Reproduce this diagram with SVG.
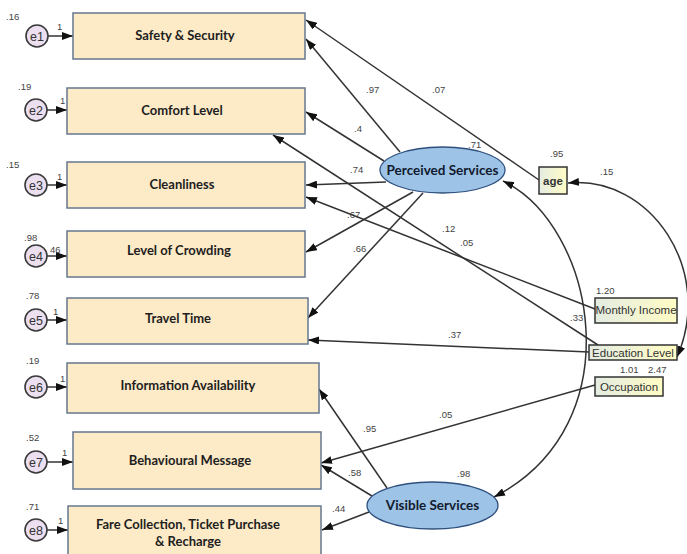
<svg xmlns="http://www.w3.org/2000/svg" width="687" height="554" viewBox="0 0 687 554">
<style>
.box{fill:#fdeac7;stroke:#66778f;stroke-width:1.5}
.btxt{font-family:Lato,"Liberation Sans",sans-serif;font-weight:bold;font-size:13px;fill:#1e1e1e;text-anchor:middle}
.err{fill:#ebdff0;stroke:#3a3a3a;stroke-width:1.6}
.etxt{font-family:"Liberation Sans",Arial,sans-serif;font-size:12.5px;fill:#333;text-anchor:middle}
.num{font-family:"Liberation Sans",Arial,sans-serif;font-size:9.5px;fill:#444}
.lat{fill:#9dc3e6;stroke:#2f507e;stroke-width:1.3}
.ltxt{font-family:Lato,"Liberation Sans",sans-serif;font-weight:bold;font-size:13.5px;fill:#111a2e;text-anchor:middle}
.obs{fill:url(#g);stroke:#333;stroke-width:1.5}
.otxt{font-family:"Liberation Sans",Arial,sans-serif;font-size:11.5px;fill:#333;text-anchor:middle}
.c{fill:none;stroke:#333;stroke-width:1.5;marker-end:url(#ah)}
.cv{fill:none;stroke:#333;stroke-width:1.5;marker-end:url(#ah);marker-start:url(#ahs)}
</style>
<defs>
<linearGradient id="g" x1="0" y1="0" x2="1" y2="0">
<stop offset="0" stop-color="#e4ece2"/>
<stop offset="1" stop-color="#fffcc4"/>
</linearGradient>
<marker id="ah" markerUnits="userSpaceOnUse" markerWidth="11" markerHeight="8" refX="11" refY="4" orient="auto">
<path d="M0,0 L11,4 L0,8 z" fill="#111"/>
</marker>
<marker id="ahs" markerUnits="userSpaceOnUse" markerWidth="11" markerHeight="8" refX="11" refY="4" orient="auto-start-reverse">
<path d="M0,0 L11,4 L0,8 z" fill="#111"/>
</marker>
</defs>
<rect width="687" height="554" fill="#fff"/>

<g id="connectors">
<line class="c" x1="48" y1="36" x2="73" y2="36"/>
<line class="c" x1="47" y1="110" x2="67" y2="110"/>
<line class="c" x1="47" y1="185" x2="67" y2="185"/>
<line class="c" x1="47" y1="256" x2="67" y2="256"/>
<line class="c" x1="47" y1="320" x2="67" y2="320"/>
<line class="c" x1="47" y1="387" x2="67" y2="387"/>
<line class="c" x1="47" y1="462" x2="73" y2="462"/>
<line class="c" x1="47" y1="530" x2="68" y2="530"/>
<line class="c" x1="539" y1="180" x2="306" y2="20"/>
<line class="c" x1="400" y1="152" x2="306" y2="39"/>
<line class="c" x1="384" y1="161" x2="306" y2="112"/>
<line class="c" x1="386" y1="182" x2="306" y2="185"/>
<line class="c" x1="413" y1="192" x2="306" y2="252"/>
<line class="c" x1="423" y1="193" x2="308" y2="318"/>
<line class="c" x1="598" y1="345" x2="273" y2="135"/>
<line class="c" x1="595" y1="309" x2="306" y2="197"/>
<line class="c" x1="589" y1="352" x2="308" y2="340"/>
<line class="c" x1="595" y1="385" x2="321" y2="463"/>
<line class="c" x1="387" y1="488" x2="319" y2="389"/>
<line class="c" x1="372" y1="496" x2="321" y2="465"/>
<line class="c" x1="369" y1="512" x2="322" y2="530"/>
<path class="cv" d="M503,181 C595,225 635,425 494,497"/>
<path class="cv" d="M568,183 C650,175 715,270 677,357"/>
</g>

<g id="e1"><circle class="err" cx="37" cy="36" r="11"/><text class="etxt" x="37" y="40.5">e1</text></g>
<g id="e2"><circle class="err" cx="36" cy="110" r="11"/><text class="etxt" x="36" y="114.5">e2</text></g>
<g id="e3"><circle class="err" cx="36" cy="185" r="11"/><text class="etxt" x="36" y="189.5">e3</text></g>
<g id="e4"><circle class="err" cx="36" cy="256" r="11"/><text class="etxt" x="36" y="260.5">e4</text></g>
<g id="e5"><circle class="err" cx="36" cy="320" r="11"/><text class="etxt" x="36" y="324.5">e5</text></g>
<g id="e6"><circle class="err" cx="36" cy="387" r="11"/><text class="etxt" x="36" y="391.5">e6</text></g>
<g id="e7"><circle class="err" cx="36" cy="462" r="11"/><text class="etxt" x="36" y="466.5">e7</text></g>
<g id="e8"><circle class="err" cx="36" cy="530" r="11"/><text class="etxt" x="36" y="534.5">e8</text></g>

<g id="safety"><rect class="box" x="73" y="13" width="232" height="46"/><text class="btxt" x="185" y="40">Safety &amp; Security</text></g>
<g id="comfort"><rect class="box" x="67" y="88" width="238" height="46"/><text class="btxt" x="182" y="115">Comfort Level</text></g>
<g id="cleanliness"><rect class="box" x="67" y="162" width="238" height="46"/><text class="btxt" x="182" y="189">Cleanliness</text></g>
<g id="crowding"><rect class="box" x="67" y="231" width="238" height="46"/><text class="btxt" x="179" y="255">Level of Crowding</text></g>
<g id="travel"><rect class="box" x="67" y="298" width="241" height="46"/><text class="btxt" x="178" y="323">Travel Time</text></g>
<g id="info"><rect class="box" x="67" y="363" width="252" height="50"/><text class="btxt" x="188" y="390">Information Availability</text></g>
<g id="behavioural"><rect class="box" x="73" y="432" width="248" height="57"/><text class="btxt" x="190" y="465">Behavioural Message</text></g>
<g id="fare"><rect class="box" x="68" y="506" width="253" height="50"/><text class="btxt" x="188" y="529">Fare Collection, Ticket Purchase</text><text class="btxt" x="188" y="546">&amp; Recharge</text></g>

<g id="perceived"><ellipse class="lat" cx="442.5" cy="170" rx="62.5" ry="23"/><text class="ltxt" x="442.5" y="175">Perceived Services</text></g>
<g id="visible"><ellipse class="lat" cx="432.5" cy="505.5" rx="65.5" ry="23.5"/><text class="ltxt" x="432.5" y="510">Visible Services</text></g>

<g id="age"><rect class="obs" x="539" y="167" width="28" height="27"/><text class="otxt" x="553" y="185" font-weight="bold" fill="#444">age</text></g>
<g id="income"><rect class="obs" x="595" y="298" width="82" height="25"/><text class="otxt" x="636" y="314">Monthly Income</text></g>
<g id="education"><rect class="obs" x="589" y="345" width="88" height="15"/><text class="otxt" x="633" y="357">Education Level</text></g>
<g id="occupation"><rect class="obs" x="595" y="377" width="68" height="19"/><text class="otxt" x="629" y="390.5">Occupation</text></g>

<g id="labels">
<text class="num" x="6" y="20">.16</text>
<text class="num" x="18" y="90">.19</text>
<text class="num" x="6" y="168">.15</text>
<text class="num" x="24" y="241">.98</text>
<text class="num" x="26" y="299">.78</text>
<text class="num" x="26" y="364">.19</text>
<text class="num" x="26" y="441">.52</text>
<text class="num" x="26" y="510">.71</text>
<text class="num" x="57" y="30">1</text>
<text class="num" x="60" y="104">1</text>
<text class="num" x="57" y="180">1</text>
<text class="num" x="50" y="253">46</text>
<text class="num" x="53" y="315">1</text>
<text class="num" x="60" y="382">1</text>
<text class="num" x="62" y="456">1</text>
<text class="num" x="58" y="524">1</text>
<text class="num" x="366" y="93">.97</text>
<text class="num" x="432" y="93">.07</text>
<text class="num" x="354" y="132">.4</text>
<text class="num" x="468" y="148">.71</text>
<text class="num" x="350" y="173">.74</text>
<text class="num" x="347" y="218">.67</text>
<text class="num" x="353" y="252">.66</text>
<text class="num" x="442" y="232">.12</text>
<text class="num" x="460" y="246">.05</text>
<text class="num" x="550" y="157">.95</text>
<text class="num" x="600" y="175">.15</text>
<text class="num" x="596" y="294">1.20</text>
<text class="num" x="570" y="321">.33</text>
<text class="num" x="448" y="338">.37</text>
<text class="num" x="620" y="373">1.01</text>
<text class="num" x="648" y="373">2.47</text>
<text class="num" x="439" y="418">.05</text>
<text class="num" x="363" y="432">.95</text>
<text class="num" x="348" y="476">.58</text>
<text class="num" x="457" y="477">.98</text>
<text class="num" x="332" y="512">.44</text>
</g>
</svg>
